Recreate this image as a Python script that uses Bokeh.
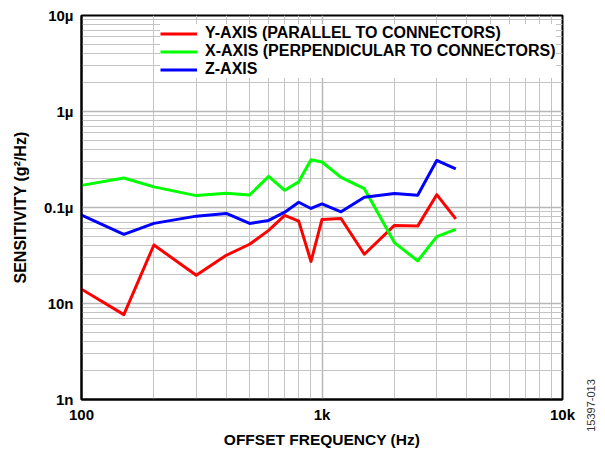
import math
from bokeh.plotting import figure
from bokeh.models import (Range1d, FixedTicker, CustomJSTickFormatter, Legend,
                          LegendItem, Label)
from bokeh.embed import file_html
from bokeh.resources import INLINE

# ---- data ----
freq = [100, 150, 200, 300, 400, 500, 600, 700, 800, 900, 1000, 1200, 1500,
        2000, 2500, 3000, 3600]
y_axis_sens = [1.41e-8, 7.66e-9, 4.07e-8, 1.97e-8, 3.18e-8, 4.14e-8, 5.78e-8,
               8.26e-8, 7.21e-8, 2.74e-8, 7.51e-8, 7.69e-8, 3.26e-8, 6.51e-8,
               6.40e-8, 1.36e-7, 7.60e-8]
x_axis_sens = [1.70e-7, 2.03e-7, 1.64e-7, 1.33e-7, 1.41e-7, 1.35e-7, 2.11e-7,
               1.51e-7, 1.85e-7, 3.14e-7, 2.98e-7, 2.06e-7, 1.57e-7, 4.31e-8,
               2.78e-8, 4.97e-8, 5.92e-8]
z_axis_sens = [8.32e-8, 5.25e-8, 6.83e-8, 8.13e-8, 8.67e-8, 6.83e-8, 7.33e-8,
               8.94e-8, 1.135e-7, 9.77e-8, 1.09e-7, 9.02e-8, 1.28e-7, 1.40e-7,
               1.34e-7, 3.09e-7, 2.52e-7]

series_labels = ["Y-AXIS (PARALLEL TO CONNECTORS)",
                 "X-AXIS (PERPENDICULAR TO CONNECTORS)",
                 "Z-AXIS"]
series_colors = ["#ff0000", "#00ff00", "#0000ff"]

x_tick_values = [100, 1000, 10000]
x_tick_labels = ["100", "1k", "10k"]
y_tick_values = [1e-9, 1e-8, 1e-7, 1e-6, 1e-5]
y_tick_labels = ["1n", "10n", "0.1µ", "1µ", "10µ"]

x_title = "OFFSET FREQUENCY (Hz)"
y_title = "SENSITIVITY (g²/Hz)"
figure_id = "15397-013"

FONT = "Liberation Sans"

p = figure(width=597, height=450, x_axis_type="log", y_axis_type="log",
           x_range=Range1d(100, 10000), y_range=Range1d(1e-9, 1e-5),
           output_backend="svg", toolbar_location=None)
p.min_border_left = 81
p.min_border_right = 35
p.min_border_top = 15
p.min_border_bottom = 49
p.background_fill_color = "white"
p.border_fill_color = "white"
p.outline_line_color = "black"
p.outline_line_width = 2
p.outline_line_alpha = 1

def minors(lo_exp, hi_exp):
    out = []
    for e in range(lo_exp, hi_exp):
        for m in range(2, 10):
            out.append(m * 10.0 ** e)
    return out

xt = FixedTicker(ticks=x_tick_values, minor_ticks=minors(2, 4))
yt = FixedTicker(ticks=y_tick_values, minor_ticks=minors(-9, -5))
p.xaxis.ticker = xt
p.yaxis.ticker = yt
p.xgrid.ticker = xt
p.ygrid.ticker = yt

fmt_code = """
let best = -1, bd = 1e9;
for (let i = 0; i < vals.length; i++) {
  const d = Math.abs(Math.log10(tick) - Math.log10(vals[i]));
  if (d < bd) { bd = d; best = i; }
}
return bd < 1e-6 ? labels[best] : "";
"""
p.xaxis.formatter = CustomJSTickFormatter(args=dict(vals=x_tick_values, labels=x_tick_labels), code=fmt_code)
p.yaxis.formatter = CustomJSTickFormatter(args=dict(vals=y_tick_values, labels=y_tick_labels), code=fmt_code)

for ax in (p.xaxis, p.yaxis):
    ax.axis_line_color = "black"
    ax.axis_line_width = 2
    ax.major_tick_in = 0
    ax.major_tick_out = 0
    ax.minor_tick_in = 0
    ax.minor_tick_out = 0
    ax.major_label_text_font = FONT
    ax.major_label_text_font_style = "bold"
    ax.major_label_text_font_size = "15px"
    ax.major_label_text_color = "black"
    ax.axis_label_text_font = FONT
    ax.axis_label_text_font_style = "bold"
    ax.axis_label_text_color = "black"

p.xaxis.axis_label = x_title
p.yaxis.axis_label = y_title
p.xaxis.axis_label_text_font_size = "15.5px"
p.yaxis.axis_label_text_font_size = "16px"
p.xaxis.major_label_standoff = 6
p.yaxis.major_label_standoff = 8
p.xaxis.axis_label_standoff = 5
p.yaxis.axis_label_standoff = 12

for g in (p.xgrid, p.ygrid):
    g.grid_line_color = "#b8b8b8"
    g.grid_line_width = 1.5
    g.minor_grid_line_color = "#c4c4c4"
    g.minor_grid_line_width = 1

renderers = []
for vals, col in zip([y_axis_sens, x_axis_sens, z_axis_sens], series_colors):
    r = p.line(freq, vals, line_color=col, line_width=3, line_join="round")
    renderers.append(r)

legend = Legend(items=[LegendItem(label=lab, renderers=[r])
                       for lab, r in zip(series_labels, renderers)],
                location=(79, 321))
legend.label_text_font = FONT
legend.label_text_font_style = "bold"
legend.label_text_font_size = "16px"
legend.label_text_color = "black"
legend.glyph_width = 37
legend.glyph_height = 17
legend.label_height = 17
legend.spacing = 0
legend.padding = 5
legend.margin = 0
legend.label_standoff = 8
legend.border_line_color = None
legend.background_fill_color = "white"
legend.background_fill_alpha = 1
p.add_layout(legend)

# figure id, printed vertically at the lower right in the right-hand side panel
id_label = Label(x=28, y=-6, x_units="screen", y_units="screen", text=figure_id,
                 angle=math.pi / 2, text_align="center", text_baseline="middle",
                 text_font=FONT, text_font_size="11px", text_color="#333333")
p.add_layout(id_label, "right")

open("out.html", "w").write(file_html(p, INLINE))
